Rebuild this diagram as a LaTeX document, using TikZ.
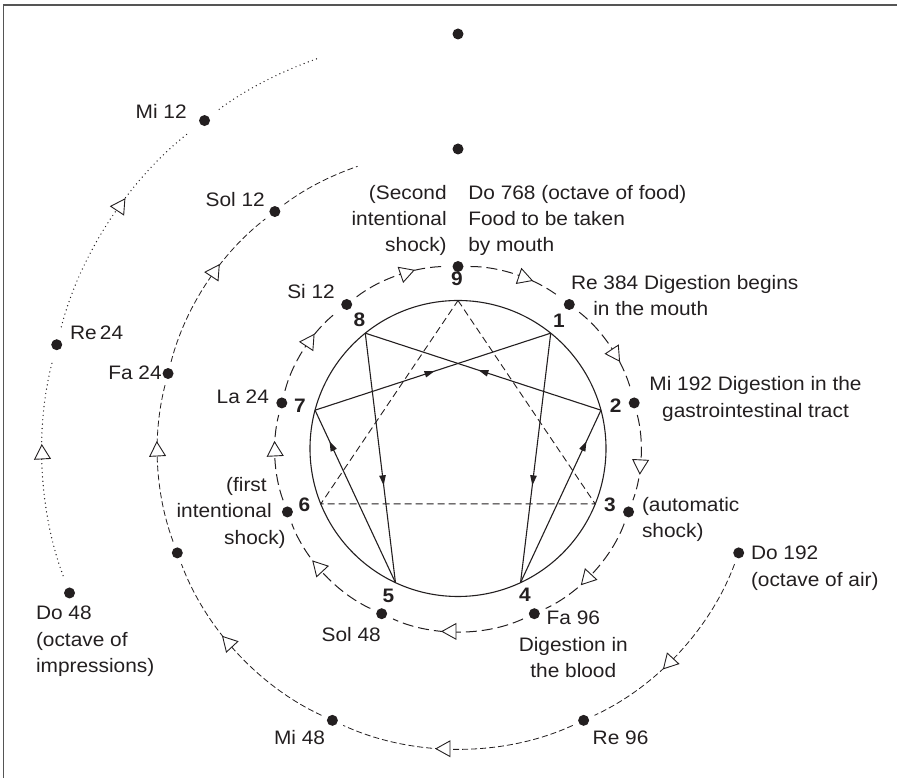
\documentclass[tikz,border=0pt]{standalone}
\usepackage{fontspec}
\setmainfont{Liberation Sans}[FakeStretch=1.07]
\usetikzlibrary{calc,arrows.meta,decorations.markings}
\definecolor{ink}{HTML}{231F20}
\definecolor{framec}{HTML}{555555}
\newcommand{\labfont}{\fontsize{19.5}{26.3}\selectfont}
\newcommand{\lbl}[2]{\begin{tabular}[t]{@{}#1@{}}#2\end{tabular}}
\begin{document}
\begin{tikzpicture}[x=1pt,y=1pt,
  every node/.style={font=\labfont, text=ink, inner sep=0pt, outer sep=0pt},
  dot/.style={circle, fill=ink, inner sep=0pt, minimum size=11pt},
  num/.style={font=\labfont\bfseries},
  foodarc/.style={draw=ink, line width=1pt, dash pattern=on 11pt off 5pt, shorten <=7pt, shorten >=7pt, looseness=0.88},
  airarc/.style={draw=ink, line width=0.8pt, dash pattern=on 6pt off 3pt, shorten <=6.5pt, shorten >=6.5pt, looseness=0.88},
  imparc/.style={draw=ink, line width=1.4pt, line cap=round, dash pattern=on 0pt off 4.4pt, shorten <=13pt, shorten >=13pt, looseness=0.88},
  midtri/.style={postaction={decorate, decoration={markings, mark=at position 0.5 with {\draw[ink, solid, line width=0.9pt, line join=miter, fill=white, shorten <=0pt, shorten >=0pt] (#1,0) -- ({#1-14pt},7.8pt) -- ({#1-14pt},-7.8pt) -- cycle;}}}},
  ennline/.style={draw=ink, line width=1.1pt},
  ennarrow/.style={postaction={decorate, decoration={markings, mark=at position #1 with {\arrow{Triangle[length=10pt,width=6.5pt]}}}}},
  enndash/.style={draw=ink, line width=0.9pt, dash pattern=on 7pt off 4pt}
]
\useasboundingbox (0,0) rectangle (897,778);
% frame
\draw[framec, line width=1.3pt] (3.3,-2) -- (3.3,773) -- (899,773);

\coordinate (C) at (458,329.5);

% enneagram circle and points
\draw[ink, line width=1.1pt] (C) circle[radius=148];
\coordinate (e9) at ($(C)+(90:148)$);
\coordinate (e1) at ($(C)+(51.2:148)$);
\coordinate (e2) at ($(C)+(15:148)$);
\coordinate (e3) at ($(C)+(-22:148)$);
\coordinate (e4) at ($(C)+(-65:148)$);
\coordinate (e5) at ($(C)+(-115:148)$);
\coordinate (e6) at ($(C)+(202:148)$);
\coordinate (e7) at ($(C)+(165:148)$);
\coordinate (e8) at ($(C)+(128.8:148)$);

\draw[enndash] (e9) -- (e3) -- (e6) -- cycle;
\draw[ennline, ennarrow=0.61] (e1) -- (e4);
\draw[ennline, ennarrow=0.82] (e4) -- (e2);
\draw[ennline, ennarrow=0.52] (e2) -- (e8);
\draw[ennline, ennarrow=0.61] (e8) -- (e5);
\draw[ennline, ennarrow=0.82] (e5) -- (e7);
\draw[ennline, ennarrow=0.507] (e7) -- (e1);

% food octave dots (R=182)
\node[dot] (f9) at ($(C)+(90:182)$) {};
\node[dot] (f1) at ($(C)+(52.3:182)$) {};
\node[dot] (f2) at ($(C)+(14.5:182)$) {};
\node[dot] (f3) at ($(C)+(-20.4:182)$) {};
\node[dot] (f4) at ($(C)+(-65.2:182)$) {};
\node[dot] (f5) at ($(C)+(-114.8:182)$) {};
\node[dot] (f6) at ($(C)+(200.4:182)$) {};
\node[dot] (f7) at ($(C)+(165.5:182)$) {};
\node[dot] (f8) at ($(C)+(127.7:182)$) {};

\draw[foodarc, midtri=16pt] (f9) to[bend left=18.85] (f1);
\draw[foodarc, midtri=16pt] (f1) to[bend left=18.9] (f2);
\draw[foodarc, midtri=16pt] (f2) to[bend left=17.45] (f3);
\draw[foodarc, midtri=16pt] (f3) to[bend left=22.4] (f4);
\draw[foodarc, midtri=16pt] (f4) to[bend left=24.8] (f5);
\draw[foodarc, midtri=16pt] (f5) to[bend left=22.4] (f6);
\draw[foodarc, midtri=16pt] (f6) to[bend left=17.45] (f7);
\draw[foodarc, midtri=16pt] (f7) to[bend left=18.9] (f8);
\draw[foodarc, midtri=16pt] (f8) to[bend left=18.85] (f9);

% air octave (R=299.5)
\node[dot] (a9) at ($(C)+(90:299.5)$) {};
\node[dot] (a3) at ($(C)+(-20.4:299.5)$) {};
\node[dot] (a4) at ($(C)+(-65.2:299.5)$) {};
\node[dot] (a5) at ($(C)+(-114.8:299.5)$) {};
\node[dot] (a6) at ($(C)+(200.4:299.5)$) {};
\node[dot] (a7) at ($(C)+(165.5:299.5)$) {};
\node[dot] (a8) at ($(C)+(127.7:299.5)$) {};
\coordinate (aE) at ($(C)+(109.6:299.5)$);

\draw[airarc, midtri=22pt] (a3) to[bend left=22.4] (a4);
\draw[airarc, midtri=22pt] (a4) to[bend left=24.8] (a5);
\draw[airarc, midtri=22pt] (a5) to[bend left=22.4] (a6);
\draw[airarc, midtri=22pt] (a6) to[bend left=17.45] (a7);
\draw[airarc, midtri=22pt] (a7) to[bend left=18.9] (a8);
\draw[airarc, shorten >=0pt] (a8) to[bend left=9.05] (aE);

% impressions octave (R=414.5)
\node[dot] (i9) at ($(C)+(90:414.5)$) {};
\node[dot] (i6) at ($(C)+(200.4:414.5)$) {};
\node[dot] (i7) at ($(C)+(165.5:414.5)$) {};
\node[dot] (i8) at ($(C)+(127.7:414.5)$) {};
\coordinate (iE) at ($(C)+(109.7:414.5)$);

\draw[imparc, midtri=25pt] (i6) to[bend left=17.45] (i7);
\draw[imparc, midtri=25pt] (i7) to[bend left=18.9] (i8);
\draw[imparc, shorten >=0pt] (i8) to[bend left=9] (iE);

% enneagram numbers
\node[num] (n9) at (457,499.5) {9};
\node[num] (n1) at (559,457) {1};
\node[num] (n2) at (615.7,372.3) {2};
\node[num] (n3) at (610,273) {3};
\node[num] (n4) at (525,183) {4};
\node[num] (n5) at (388.3,182) {5};
\node[num] (n6) at (304.3,273) {6};
\node[num] (n7) at (300,372.3) {7};
\node[num] (n8) at (359.3,458.7) {8};

% labels
\node[anchor=base east] (tSecond) at (446.7,578.7) {\lbl{r}{(Second\\intentional\\shock)}};
\node[anchor=base west] (tDo768) at (468.3,578.7) {\lbl{l}{Do 768 (octave of food)\\Food to be taken\\by mouth}};
\node[anchor=base west] (tRe384) at (571,488.5) {\lbl{l}{Re 384 Digestion begins\\\kern22.3pt in the mouth}};
\node[anchor=base] (tMi192) at (755.5,387) {\lbl{c}{Mi 192 Digestion in the\\gastrointestinal tract}};
\node[anchor=base west] (tAuto) at (642,266.3) {\lbl{l}{(automatic\\shock)}};
\node[anchor=base west] (tDo192) at (751,218) {\lbl{l}{Do 192\\(octave of air)}};
\node[anchor=base] (tFa96) at (573.3,153) {\lbl{c}{Fa 96\\Digestion in\\the blood}};
\node[anchor=base west] (tRe96) at (592.7,33.7) {Re 96};
\node[anchor=base west] (tMi48) at (274,33.7) {Mi 48};
\node[anchor=base west] (tSol48) at (321.7,136.3) {Sol 48};
\node[anchor=base west] (tDo48) at (36,158) {\lbl{l}{Do 48\\(octave of\\impressions)}};
\node[anchor=base east] (tFirst) at (285.7,286.3) {\lbl{r}{(first\kern19pt\\intentional\kern14pt\\shock)}};
\node[anchor=base west] (tLa24) at (216.7,374.7) {La 24};
\node[anchor=base west] (tSi12) at (287.3,479.7) {Si 12};
\node[anchor=base west] (tFa24) at (108.3,398) {Fa 24};
\node[anchor=base west] (tRe24) at (70,438) {Re\,24};
\node[anchor=base west] (tSol12) at (205.7,571.3) {Sol 12};
\node[anchor=base west] (tMi12) at (135.7,659.7) {Mi 12};
\end{tikzpicture}
\end{document}
